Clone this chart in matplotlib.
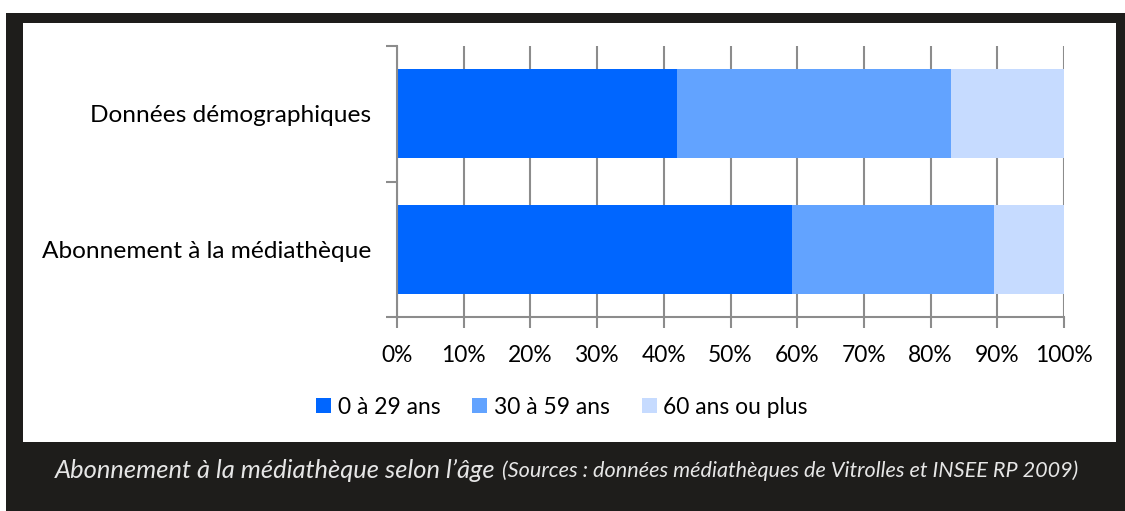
import matplotlib
matplotlib.use("Agg")
import matplotlib.pyplot as plt
from matplotlib.patches import Rectangle, Patch
import numpy as np

# data (percent)
categories = ["Abonnement à la médiathèque", "Données démographiques"]
age_groups = ["0 à 29 ans", "30 à 59 ans", "60 ans ou plus"]
share_0_29 = [59.2, 42.0]
share_30_59 = [30.3, 41.0]
share_60_plus = [10.5, 17.0]
x_ticks = [0, 10, 20, 30, 40, 50, 60, 70, 80, 90, 100]

colors = ["#0066ff", "#62a3ff", "#c6dbff"]
dark = "#1e1d1b"
grey = "#8c8c8c"

plt.rcParams["font.family"] = ["Lato", "DejaVu Sans"]

W, H = 1125, 511
fig = plt.figure(figsize=(W / 100, H / 100), dpi=100, facecolor="white")

# dark frame + caption band
fig.patches.append(Rectangle((6 / W, 0), 1 - 6 / W, 1 - 13 / H, transform=fig.transFigure,
                             facecolor=dark, edgecolor="none", zorder=-2))
fig.patches.append(Rectangle((23 / W, 1 - 442 / H), (1116 - 23) / W, (442 - 23) / H,
                             transform=fig.transFigure, facecolor="white",
                             edgecolor="none", zorder=-1))

ax = fig.add_axes([397 / W, 1 - 317 / H, (1064 - 397) / W, (317 - 46) / H])
ax.set_zorder(2)
ax.set_facecolor("none")

y = np.arange(len(categories))
h = 0.66
left = np.zeros(len(categories))
for vals, col, lab in zip([share_0_29, share_30_59, share_60_plus], colors, age_groups):
    ax.barh(y, vals, left=left, height=h, color=col, label=lab, zorder=2)
    left = left + np.array(vals)

fs = 16.4
ax.set_xlim(0, 100)
ax.set_ylim(-0.5, len(categories) - 0.5)
ax.set_xticks(x_ticks)
ax.set_xticklabels([f"{t}%" for t in x_ticks], fontsize=fs)
ax.set_yticks(y)
ax.set_yticklabels(categories, fontsize=17.6)
ax.set_yticks([-0.5, 0.5, 1.5], minor=True)
ax.tick_params(axis="y", which="major", length=0, pad=18.5)
ax.tick_params(axis="y", which="minor", length=8, width=1.5, color=grey)
ax.tick_params(axis="x", length=8, width=1.5, color=grey, pad=12)
ax.grid(axis="x", color=grey, linewidth=1.5, zorder=1)
ax.set_axisbelow(True)
for s in ["top", "right"]:
    ax.spines[s].set_visible(False)
for s in ["left", "bottom"]:
    ax.spines[s].set_color(grey)
    ax.spines[s].set_linewidth(1.5)
    ax.spines[s].set_zorder(3)

handles = [Patch(facecolor=c, edgecolor="none") for c in colors]
fig.legend(handles, age_groups, loc="center", bbox_to_anchor=(562 / W, 1 - 407 / H),
           ncol=3, frameon=False, fontsize=fs, handlelength=0.65, handleheight=0.65,
           handletextpad=0.3, columnspacing=1.4)

# caption in two sizes
renderer = fig.canvas.get_renderer()
t1 = fig.text(55 / W, 1 - 470 / H, "Abonnement à la médiathèque selon l’âge",
              fontsize=18.4, style="italic", color="#e6e6e6", va="center", ha="left")
bb = t1.get_window_extent(renderer)
fig.text((bb.x1 + 6) / W, 1 - 471 / H,
         "(Sources : données médiathèques de Vitrolles et INSEE RP 2009)",
         fontsize=15.6, style="italic", color="#e6e6e6", va="center", ha="left")

fig.savefig("out.png", dpi=100, facecolor=fig.get_facecolor())
